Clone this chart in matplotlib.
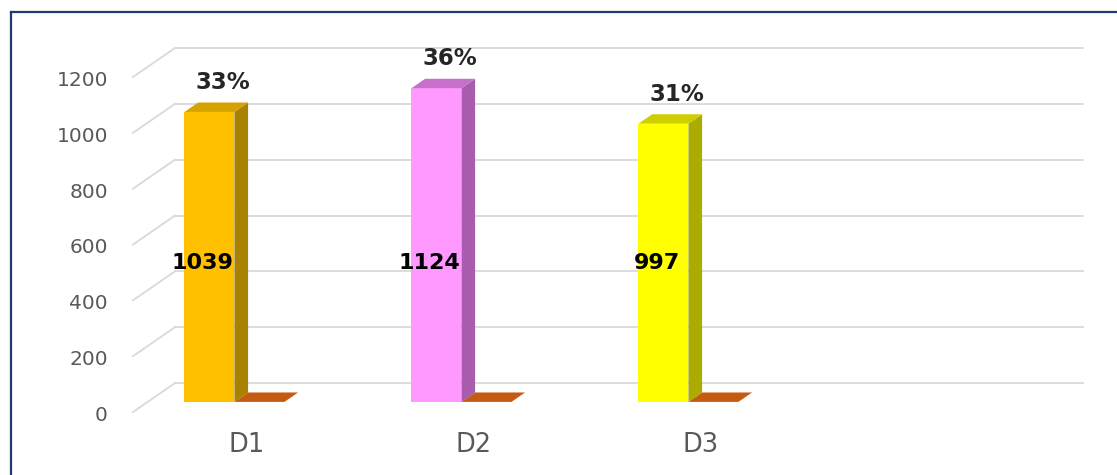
import matplotlib
matplotlib.use("Agg")
import matplotlib.pyplot as plt
from matplotlib.patches import Polygon
from matplotlib.lines import Line2D

# datos
categories = ["D1", "D2", "D3"]
counts = [1039, 1124, 997]
shares = [0.33, 0.36, 0.31]
y_ticks = [0, 200, 400, 600, 800, 1000, 1200]

front_colors = ["#FFC000", "#FF99FF", "#FFFF00"]
side_colors = ["#A88200", "#A85CAE", "#ABAB00"]
top_colors = ["#D6A200", "#C670CC", "#CFCF00"]
share_color = "#C55A11"

# geometria 3D (profundidad en unidades de datos)
DX = 42 / 227      # desplazamiento x por unidad de profundidad
DY = 29 / (335 / 1200)   # desplazamiento y por unidad de profundidad
D0, D1 = 0.345, 0.67     # profundidad de las barras
BAR_W = 0.22
BAR_START = 0.163
N_SLOTS = 4


def p(x, v, d):
    return (x + d * DX, v + d * DY)


def draw_bar(ax, x0, value, front, side, top):
    x1 = x0 + BAR_W
    ax.add_patch(Polygon([p(x0, 0, D0), p(x1, 0, D0), p(x1, value, D0), p(x0, value, D0)],
                         closed=True, facecolor=front, edgecolor="none", zorder=3))
    ax.add_patch(Polygon([p(x1, 0, D0), p(x1, 0, D1), p(x1, value, D1), p(x1, value, D0)],
                         closed=True, facecolor=side, edgecolor="none", zorder=3))
    ax.add_patch(Polygon([p(x0, value, D0), p(x1, value, D0), p(x1, value, D1), p(x0, value, D1)],
                         closed=True, facecolor=top, edgecolor="none", zorder=3))


fig = plt.figure(figsize=(11.17, 4.75), dpi=100)
ax = fig.add_axes([133 / 1117, (475 - 412) / 475, 908 / 1117, 335 / 475])
ax.set_xlim(0, N_SLOTS)
ax.set_ylim(0, 1200)
ax.axis("off")

grid_color = "#D9D9D9"
for v in y_ticks:
    # pared del fondo
    (xa, ya), (xb, yb) = p(0, v, 1), p(N_SLOTS, v, 1)
    ax.plot([xa, xb], [ya, yb], color=grid_color, lw=1.3, zorder=1, clip_on=False)
    # pared lateral
    (xa, ya), (xb, yb) = p(0, v, 0), p(0, v, 1)
    ax.plot([xa, xb], [ya, yb], color=grid_color, lw=1.3, zorder=1, clip_on=False)
    ax.annotate(str(v), (0, v), xytext=(-18, -2.5), textcoords="offset points",
                ha="right", va="center", fontsize=14.5, color="#595959",
                annotation_clip=False)

label_level = min(counts) / 2
for i, cat in enumerate(categories):
    x0 = i + BAR_START
    draw_bar(ax, x0 + BAR_W, shares[i], share_color, share_color, share_color)
    draw_bar(ax, x0, counts[i], front_colors[i], side_colors[i], top_colors[i])

    # valor dentro de la barra
    cx, cy = p(x0 + BAR_W / 2 - 0.03, label_level, D0)
    ax.text(cx, cy, str(counts[i]), ha="center", va="center", fontsize=16,
            fontweight="bold", color="#000000", zorder=5)

    # porcentaje encima
    tx, ty = p(x0 + BAR_W / 2, counts[i], D1)
    ax.annotate(f"{shares[i]:.0%}", (tx, ty), xytext=(0, 6),
                textcoords="offset points", ha="center", va="bottom",
                fontsize=16.5, fontweight="bold", color="#262626",
                annotation_clip=False)

    # etiqueta de categoria
    ax.annotate(cat, (i + 0.5, 0), xytext=(0, -24), textcoords="offset points",
                ha="center", va="center", fontsize=18.5, color="#595959",
                annotation_clip=False)

# borde
border = "#1F3A6E"
fig.add_artist(Line2D([10.5 / 1117, 10.5 / 1117], [0, 1 - 12 / 475],
                      color=border, lw=1.6, transform=fig.transFigure))
fig.add_artist(Line2D([10.5 / 1117, 1], [1 - 12 / 475, 1 - 12 / 475],
                      color=border, lw=1.6, transform=fig.transFigure))

fig.savefig("out.png", dpi=100)
plt.close(fig)
